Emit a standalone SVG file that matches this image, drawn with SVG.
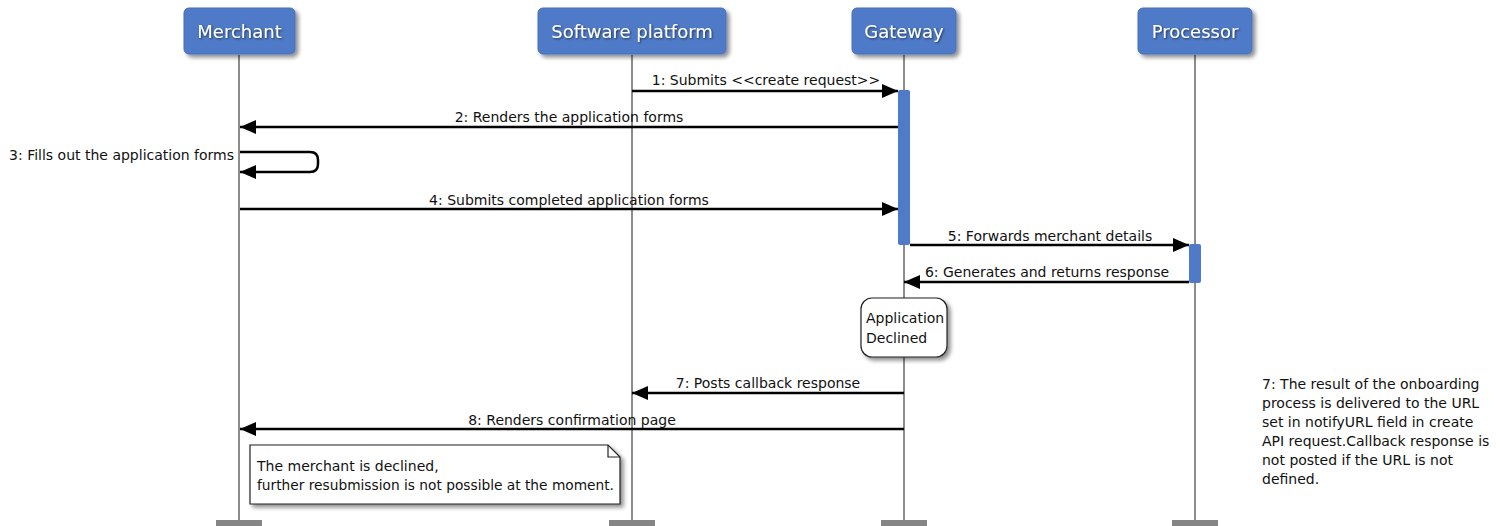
<svg xmlns="http://www.w3.org/2000/svg" width="1502" height="526" viewBox="0 0 1502 526">
<style>
.hdr{fill:#4f7ac7;stroke:#4370bf;stroke-width:1}
.hdrt{font-family:"DejaVu Sans",sans-serif;font-size:18px;fill:#fff;text-anchor:middle}
.life{stroke:#8c8c8c;stroke-width:2}
.foot{fill:#858585}
.act{fill:#4f7ac7}
.msg{stroke:#000;stroke-width:2.5;fill:none}
.lbl{font-family:"DejaVu Sans",sans-serif;font-size:14px;fill:#111;text-anchor:middle}
.txt{font-family:"DejaVu Sans",sans-serif;font-size:14px;fill:#111}
.note{fill:#fff;stroke:#222;stroke-width:1.2}
</style>
<defs>
<filter id="sh" x="-20%" y="-20%" width="150%" height="150%">
<feGaussianBlur in="SourceAlpha" stdDeviation="2"/>
<feOffset dx="3" dy="3" result="b"/>
<feComponentTransfer><feFuncA type="linear" slope="0.45"/></feComponentTransfer>
<feMerge><feMergeNode/><feMergeNode in="SourceGraphic"/></feMerge>
</filter>
<filter id="tsh" x="-10%" y="-30%" width="130%" height="160%">
<feOffset in="SourceAlpha" dx="1" dy="1"/>
<feGaussianBlur stdDeviation="0.8"/>
<feComponentTransfer><feFuncA type="linear" slope="0.6"/></feComponentTransfer>
<feMerge><feMergeNode/><feMergeNode in="SourceGraphic"/></feMerge>
</filter>
<marker id="ah" markerWidth="16" markerHeight="14" refX="16" refY="7" orient="auto" markerUnits="userSpaceOnUse">
<path d="M0,0 L16,7 L0,14 Z" fill="#000"/>
</marker>
</defs>
<rect width="1502" height="526" fill="#fff"/>

<g id="lifelines">
<line class="life" x1="239" y1="55" x2="239" y2="520"/>
<line class="life" x1="632" y1="55" x2="632" y2="520"/>
<line class="life" x1="904" y1="55" x2="904" y2="520"/>
<line class="life" x1="1195" y1="55" x2="1195" y2="520"/>
<rect class="foot" x="216" y="520" width="46" height="6"/>
<rect class="foot" x="609" y="520" width="46" height="6"/>
<rect class="foot" x="881" y="520" width="46" height="6"/>
<rect class="foot" x="1172" y="520" width="46" height="6"/>
</g>

<g id="merchant">
<rect class="hdr" x="184" y="8" width="111" height="46" rx="5" filter="url(#sh)"/>
<text class="hdrt" x="239.5" y="38" filter="url(#tsh)">Merchant</text>
</g>
<g id="software-platform">
<rect class="hdr" x="538" y="8" width="188" height="46" rx="5" filter="url(#sh)"/>
<text class="hdrt" x="632" y="38" filter="url(#tsh)">Software platform</text>
</g>
<g id="gateway">
<rect class="hdr" x="852" y="8" width="104" height="46" rx="5" filter="url(#sh)"/>
<text class="hdrt" x="904" y="38" filter="url(#tsh)">Gateway</text>
</g>
<g id="processor">
<rect class="hdr" x="1138" y="8" width="114" height="46" rx="5" filter="url(#sh)"/>
<text class="hdrt" x="1195" y="38" filter="url(#tsh)">Processor</text>
</g>

<g id="activations">
<rect class="act" x="898" y="90" width="12" height="155" rx="2"/>
<rect class="act" x="1189" y="244" width="12" height="39" rx="2"/>
</g>

<g id="connectors">
<line class="msg" x1="632" y1="91" x2="898" y2="91" marker-end="url(#ah)"/>
<text class="lbl" x="766" y="85">1: Submits &lt;&lt;create request&gt;&gt;</text>
<line class="msg" x1="898" y1="127" x2="240" y2="127" marker-end="url(#ah)"/>
<text class="lbl" x="569" y="122">2: Renders the application forms</text>
<path class="msg" d="M240,152 H310 Q318,152 318,160 V164 Q318,172 310,172 H240" marker-end="url(#ah)"/>
<text class="txt" x="234" y="160" text-anchor="end">3: Fills out the application forms</text>
<line class="msg" x1="240" y1="209" x2="898" y2="209" marker-end="url(#ah)"/>
<text class="lbl" x="569" y="205">4: Submits completed application forms</text>
<line class="msg" x1="910" y1="245" x2="1189" y2="245" marker-end="url(#ah)"/>
<text class="lbl" x="1050" y="241">5: Forwards merchant details</text>
<line class="msg" x1="1189" y1="282" x2="904" y2="282" marker-end="url(#ah)"/>
<text class="lbl" x="1047" y="277">6: Generates and returns response</text>
<line class="msg" x1="904" y1="393" x2="632" y2="393" marker-end="url(#ah)"/>
<text class="lbl" x="768" y="388">7: Posts callback response</text>
<line class="msg" x1="904" y1="429" x2="240" y2="429" marker-end="url(#ah)"/>
<text class="lbl" x="572" y="425">8: Renders confirmation page</text>
</g>

<g id="state-declined">
<rect x="861" y="298" width="86" height="59" rx="11" fill="#fff" stroke="#222" stroke-width="1.2" filter="url(#sh)"/>
<text class="txt" x="866" y="323">Application</text>
<text class="txt" x="866" y="343">Declined</text>
</g>

<g id="note-declined">
<path class="note" d="M250,445 H608 L620,457 V504 H250 Z" filter="url(#sh)"/>
<path d="M608,445 V457 H620" fill="none" stroke="#222" stroke-width="1.2"/>
<text class="txt" x="257" y="471">The merchant is declined,</text>
<text class="txt" x="257" y="490" textLength="357" lengthAdjust="spacingAndGlyphs">further resubmission is not possible at the moment.</text>
</g>

<g id="note-callback">
<text class="txt" x="1262" y="389">7: The result of the onboarding</text>
<text class="txt" x="1262" y="408">process is delivered to the URL</text>
<text class="txt" x="1262" y="427">set in notifyURL field in create</text>
<text class="txt" x="1262" y="446">API request.Callback response is</text>
<text class="txt" x="1262" y="465">not posted if the URL is not</text>
<text class="txt" x="1262" y="484">defined.</text>
</g>
</svg>
